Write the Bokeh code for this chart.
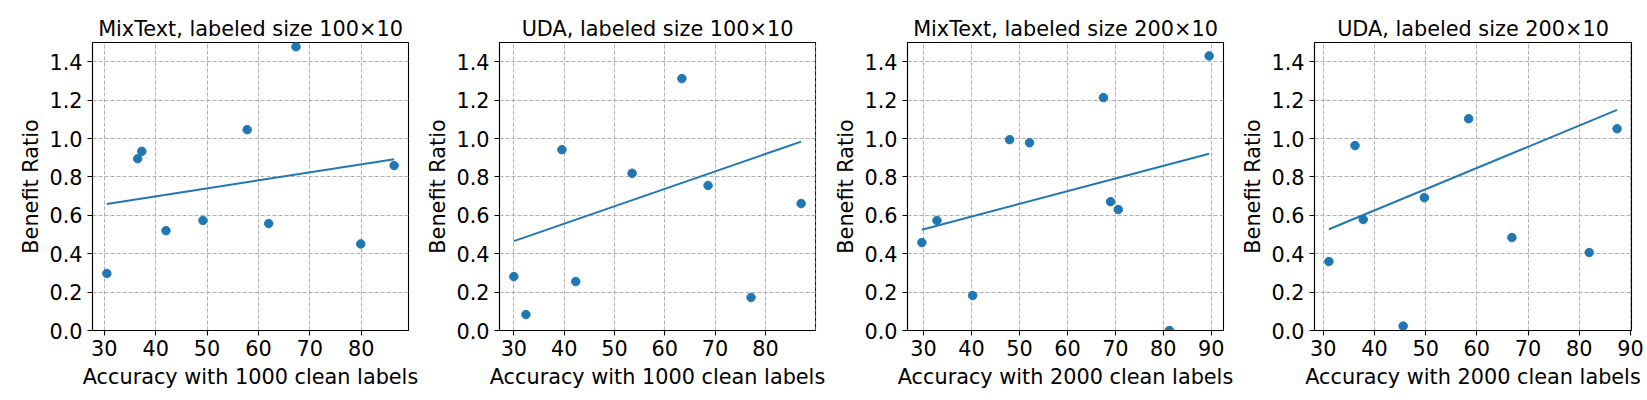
import numpy as np
from bokeh.plotting import figure
from bokeh.layouts import row
from bokeh.models import Range1d, FixedTicker, PrintfTickFormatter, ColumnDataSource
from bokeh.embed import file_html
from bokeh.resources import INLINE

# ---- data ----
titles = ["MixText, labeled size 100×10", "UDA, labeled size 100×10",
          "MixText, labeled size 200×10", "UDA, labeled size 200×10"]
xlabels = ["Accuracy with 1000 clean labels", "Accuracy with 1000 clean labels",
           "Accuracy with 2000 clean labels", "Accuracy with 2000 clean labels"]
ylabel = "Benefit Ratio"

mix100_x = [30.5, 36.5, 37.3, 42.0, 49.2, 57.8, 62.0, 67.3, 79.9, 86.4]
mix100_y = [0.297, 0.895, 0.933, 0.520, 0.573, 1.046, 0.557, 1.478, 0.451, 0.859]

uda100_x = [30.0, 32.4, 39.55, 42.3, 53.5, 63.4, 66.7, 68.6, 77.15, 87.1]
uda100_y = [0.281, 0.083, 0.942, 0.255, 0.819, 1.312, 1.74, 0.755, 0.172, 0.661]

mix200_x = [29.65, 32.8, 40.25, 47.95, 52.1, 67.5, 69.0, 70.6, 81.25, 89.55]
mix200_y = [0.458, 0.573, 0.182, 0.994, 0.978, 1.213, 0.671, 0.630, 0.0, 1.430]

uda200_x = [31.1, 36.2, 37.8, 45.6, 49.75, 58.4, 66.85, 70.1, 81.95, 87.4]
uda200_y = [0.359, 0.963, 0.578, 0.023, 0.692, 1.103, 0.484, 2.42, 0.406, 1.051]

x_ticks = [30, 40, 50, 60, 70, 80, 90]
y_ticks = [0.0, 0.2, 0.4, 0.6, 0.8, 1.0, 1.2, 1.4]

series = [(mix100_x, mix100_y), (uda100_x, uda100_y),
          (mix200_x, mix200_y), (uda200_x, uda200_y)]

# layout: (figure width, left border, right border)
layout = [(418, 92, 10), (408, 81, 11), (408, 81, 11), (411, 80, 14)]

BLUE = "#1f77b4"
FONT = "DejaVu Sans"
FS = "20.8px"

figs = []
for (xs, ys), title, xl, (w, bl, br) in zip(series, titles, xlabels, layout):
    xs = np.asarray(xs, dtype=float)
    ys = np.asarray(ys, dtype=float)
    span = xs.max() - xs.min()
    p = figure(width=w, height=398,
               x_range=Range1d(xs.min() - 0.05 * span, xs.max() + 0.05 * span),
               y_range=Range1d(0, 1.5),
               output_backend="svg", toolbar_location=None,
               min_border_left=bl, min_border_right=br,
               min_border_top=42, min_border_bottom=68,
               title=title)
    p.title.text_font = FONT
    p.title.text_font_size = FS
    p.title.text_font_style = "normal"
    p.title.align = "center"
    p.title.text_color = "black"
    p.title.standoff = 4

    p.outline_line_color = "black"
    p.outline_line_width = 1.1
    p.outline_line_alpha = 1.0

    p.grid.grid_line_color = "#b0b0b0"
    p.grid.grid_line_dash = "4 2"
    p.grid.grid_line_width = 1

    p.xaxis.ticker = FixedTicker(ticks=x_ticks)
    p.yaxis.ticker = FixedTicker(ticks=y_ticks)
    p.yaxis.formatter = PrintfTickFormatter(format="%.1f")

    p.axis.axis_line_color = "black"
    p.axis.axis_line_width = 1.1
    p.axis.major_tick_line_color = "black"
    p.axis.major_tick_line_width = 1.1
    p.axis.major_tick_out = 5
    p.axis.major_tick_in = 0
    p.axis.minor_tick_line_color = None
    p.axis.major_label_text_font = FONT
    p.axis.major_label_text_font_size = FS
    p.axis.major_label_text_color = "black"
    p.axis.axis_label_text_font = FONT
    p.axis.axis_label_text_font_size = FS
    p.axis.axis_label_text_font_style = "normal"
    p.axis.axis_label_text_color = "black"

    p.xaxis.axis_label = xl
    p.yaxis.axis_label = ylabel
    p.xaxis.major_label_standoff = 4
    p.xaxis.axis_label_standoff = 6
    p.yaxis.major_label_standoff = 5
    p.yaxis.axis_label_standoff = 3

    # least-squares trend line over the data extent
    slope, intercept = np.polyfit(xs, ys, 1)
    lx = np.array([xs.min(), xs.max()])
    line_src = ColumnDataSource(dict(x=lx, y=intercept + slope * lx))
    p.line("x", "y", source=line_src, line_color=BLUE, line_width=2)

    pts = ColumnDataSource(dict(x=xs, y=ys))
    p.scatter("x", "y", source=pts, size=8.5, fill_color=BLUE, line_color=BLUE)

    figs.append(p)

layout_row = row(*figs, spacing=0)
open("out.html", "w").write(file_html(layout_row, INLINE))
